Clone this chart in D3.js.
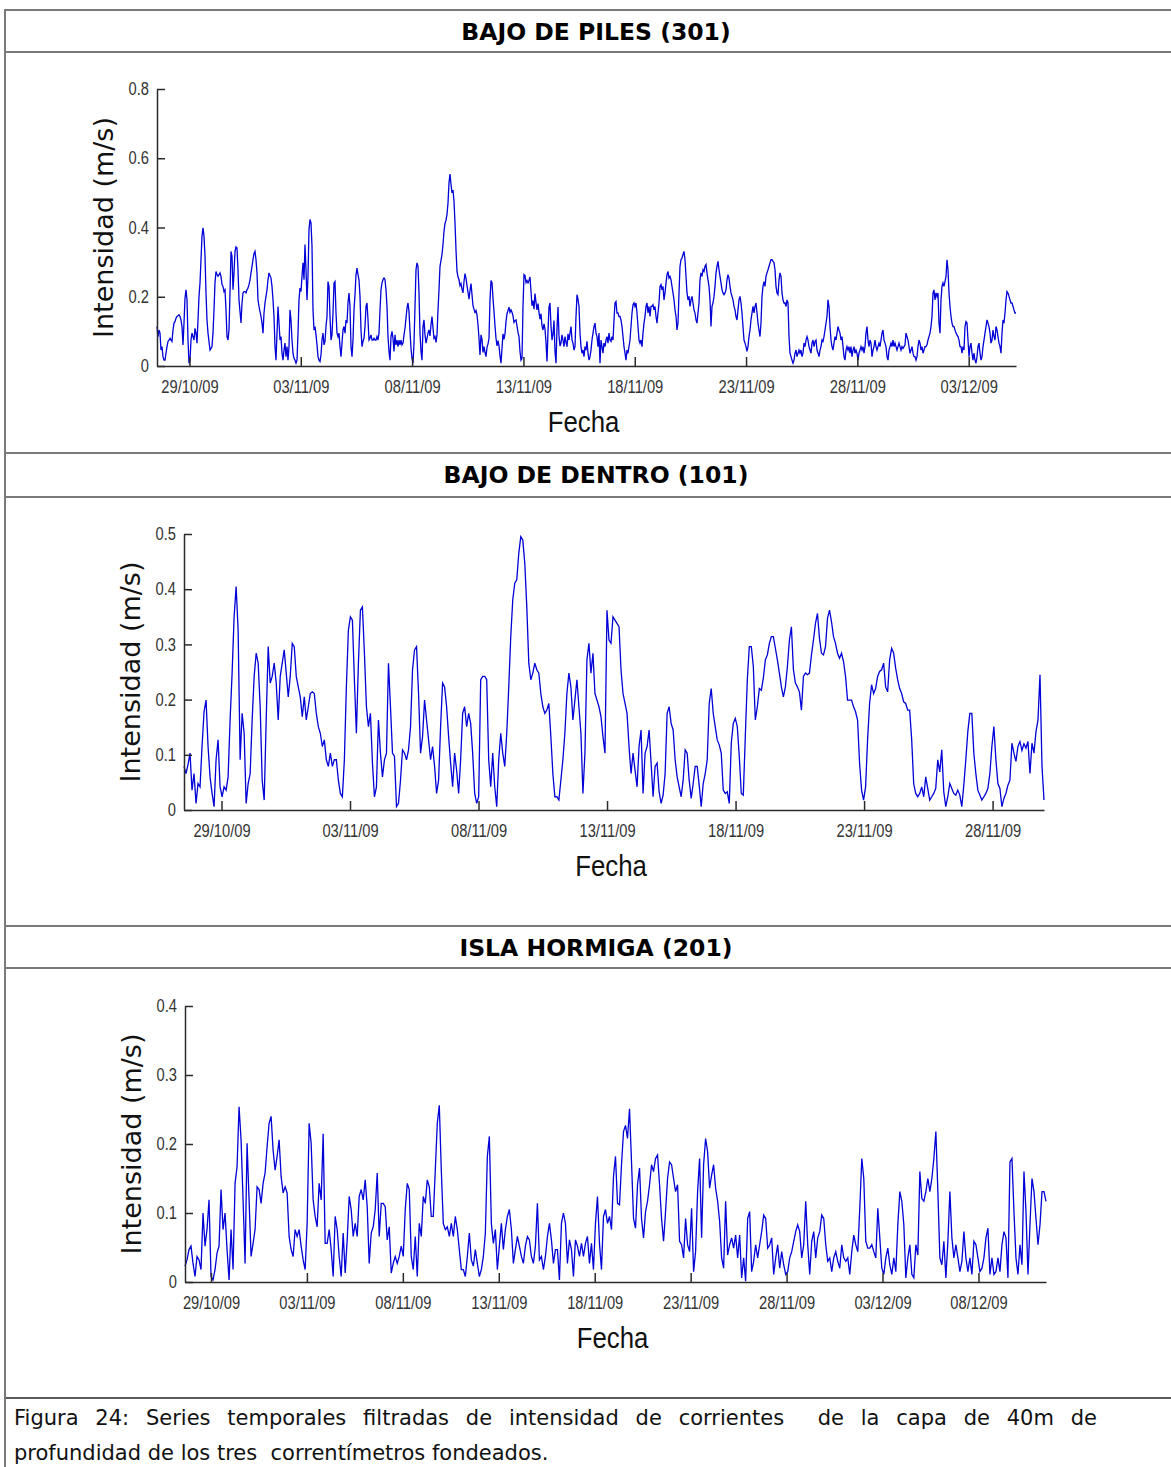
<!DOCTYPE html>
<html>
<head>
<meta charset="utf-8">
<script src="https://cdn.jsdelivr.net/npm/d3@7"></script>
<style>
  html, body { margin: 0; padding: 0; background: #fff; }
  svg { display: block; }
</style>
</head>
<body>
<svg id="fig" width="1171" height="1467"></svg>
<script>
// ---------------------------------------------------------------
// Filtered current speed at the 40 m layer, three moored meters.
// Speeds are stored in mm/s, evenly spaced between start and end.
// ---------------------------------------------------------------

const stationTitles = ["BAJO DE PILES (301)", "BAJO DE DENTRO (101)", "ISLA HORMIGA (201)"];

const yTicks301 = [0, 0.2, 0.4, 0.6, 0.8];
const yTicks101 = [0, 0.1, 0.2, 0.3, 0.4, 0.5];
const yTicks201 = [0, 0.1, 0.2, 0.3, 0.4];

const xTicks301 = ["2009-10-29", "2009-11-03", "2009-11-08", "2009-11-13", "2009-11-18", "2009-11-23", "2009-11-28", "2009-12-03"];
const xTicks101 = ["2009-10-29", "2009-11-03", "2009-11-08", "2009-11-13", "2009-11-18", "2009-11-23", "2009-11-28"];
const xTicks201 = ["2009-10-29", "2009-11-03", "2009-11-08", "2009-11-13", "2009-11-18", "2009-11-23", "2009-11-28", "2009-12-03", "2009-12-08"];

const start301 = "2009-10-27 13:00", end301 = "2009-12-05 03:00";
const start101 = "2009-10-27 13:00", end101 = "2009-11-30 00:00";
const start201 = "2009-10-27 15:30", end201 = "2009-12-11 12:30";

const speed301 = [
  114,85,104,95,46,56,27,17,17,37,56,71,75,80,75,71,104,124,128,138,143,145,148,143,133,114,61,124,196,220,191,75,8,17,75,95,85,75,109,95,66,133,201,240,307,375,399,375,317,211,133,95,71,46,51,56,95,162,240,273,264,259,264,269,259,235,230,215,220,162,85,75,104,211,331,317,220,269,331,344,341,278,191,157,124,182,211,215,215,211,220,225,235,249,269,288,307,325,331,307,269,191,172,157,143,124,95,153,182,201,220,249,269,261,254,230,191,143,56,17,95,172,124,75,85,37,17,46,66,27,56,17,56,162,133,75,37,22,17,8,17,95,191,225,215,259,298,249,351,278,191,259,394,423,413,346,162,104,114,90,61,27,17,13,32,75,95,61,71,114,143,244,230,143,75,90,153,240,244,153,95,85,95,56,27,66,104,114,95,133,124,182,211,172,56,27,75,162,206,264,283,264,249,201,104,56,71,80,114,172,182,133,75,80,90,75,75,80,75,75,85,75,95,162,220,240,249,254,249,220,172,85,42,17,85,100,80,42,90,61,75,56,75,61,75,61,66,90,109,138,167,182,157,100,51,22,8,66,172,278,298,288,211,95,42,17,114,133,90,66,80,95,104,87,119,143,109,80,85,68,90,162,220,288,305,322,351,389,412,421,438,471,529,554,525,500,508,476,413,336,273,257,249,232,238,222,211,244,267,254,232,213,193,218,238,206,174,164,155,160,148,119,80,32,90,77,39,56,39,27,54,64,80,191,247,241,196,157,116,80,58,73,58,29,8,51,93,77,93,128,151,160,170,155,162,155,145,126,131,133,116,97,85,42,17,22,172,264,261,241,247,240,247,257,215,174,189,164,209,184,162,180,155,135,151,116,104,122,106,68,13,100,170,182,116,75,93,131,42,8,109,170,87,58,66,90,75,56,85,68,56,93,75,95,114,75,66,46,56,143,206,193,172,95,56,37,46,27,56,46,71,37,17,27,
  46,75,95,114,124,95,85,56,95,8,75,56,37,66,56,75,85,66,95,75,71,85,75,133,182,186,153,153,143,143,133,114,85,56,37,17,46,37,56,75,114,153,177,182,172,182,153,114,75,66,75,56,95,124,143,172,182,153,172,143,172,172,177,162,172,143,124,153,182,230,235,220,230,191,211,240,264,273,254,259,249,230,211,191,162,143,104,124,211,288,307,312,322,331,307,259,211,191,201,172,191,201,182,162,153,133,124,153,182,249,269,259,278,273,288,293,269,249,230,191,114,172,182,201,230,269,288,302,278,259,240,220,211,206,211,220,249,264,254,230,211,201,191,172,162,143,133,162,191,201,182,153,114,75,66,56,42,56,85,104,133,153,172,153,172,182,153,124,104,85,124,201,230,244,230,259,269,278,288,298,307,307,302,298,278,230,211,206,249,269,259,211,191,182,182,172,191,182,85,37,27,17,8,17,37,46,27,37,46,37,46,27,37,66,56,75,85,75,56,46,37,66,75,56,71,75,46,37,27,46,56,75,71,85,104,124,143,191,172,114,75,56,46,66,85,75,95,114,104,95,75,85,56,27,17,46,56,46,56,37,56,27,46,56,37,46,37,17,37,46,56,46,56,37,56,95,114,75,56,75,66,27,46,56,75,56,46,56,66,56,75,95,104,75,66,56,27,17,46,56,66,56,75,56,66,56,46,56,66,56,46,56,51,56,61,95,85,75,56,37,46,56,37,27,27,17,27,56,75,66,46,56,37,46,56,56,61,75,85,95,114,143,211,220,191,211,201,211,124,95,191,230,240,230,244,259,307,278,211,172,143,124,114,114,104,95,90,85,75,56,56,37,56,46,114,128,124,75,27,56,66,37,17,37,17,8,27,56,66,37,17,27,56,75,95,114,133,124,114,95,66,75,104,85,75,114,104,85,66,56,37,95,133,124,153,191,215,211,201,191,182,182,172,162,153,153
];

const speed101 = [
  79,66,82,103,36,66,12,48,42,115,178,199,115,60,30,6,91,127,42,24,42,36,60,163,248,350,405,326,91,175,139,12,48,66,163,242,284,266,187,54,18,163,296,230,242,266,230,163,242,266,290,248,205,242,302,296,242,223,205,169,205,163,187,211,214,211,175,151,139,115,127,91,79,103,79,91,91,54,30,24,91,223,326,350,344,236,139,266,362,368,284,187,151,175,85,24,42,163,103,60,91,103,266,187,103,97,6,12,54,109,103,91,109,151,254,290,296,211,103,133,199,163,127,91,115,79,30,54,151,230,223,187,133,85,42,103,72,30,91,175,187,151,175,157,103,30,12,24,236,242,242,236,91,42,103,42,6,91,139,103,79,139,223,314,381,411,417,465,495,489,447,368,266,236,248,266,254,248,211,187,175,181,193,133,66,24,24,18,54,91,139,211,248,223,163,199,236,187,139,30,103,272,302,248,284,211,199,187,169,133,103,362,308,302,350,344,338,
  332,254,211,193,175,115,66,103,72,42,115,145,30,103,115,145,85,24,79,85,33,12,27,66,175,187,157,145,91,60,42,24,54,109,103,54,21,48,79,79,45,6,48,66,91,193,220,175,151,127,118,103,36,30,33,12,121,157,166,151,97,30,27,133,236,296,296,260,163,187,220,217,239,272,281,302,314,314,293,272,248,223,205,223,260,308,332,254,230,223,214,181,242,248,245,248,281,308,338,356,311,284,281,296,347,362,341,314,302,284,275,284,269,242,199,199,199,187,178,163,85,36,18,42,127,193,227,211,220,242,251,254,266,223,214,272,293,284,257,236,220,211,196,193,181,181,127,48,30,24,30,42,24,60,39,18,24,30,39,91,69,109,33,6,24,48,39,30,27,36,27,6,45,91,142,175,175,103,66,36,27,18,24,30,39,66,115,151,91,48,39,6,21,30,45,54,121,103,88,115,124,108,120,112,124,66,121,103,142,163,245,79,18
];

const speed201 = [
  23,32,47,52,27,8,37,32,18,100,52,76,119,8,3,18,42,52,134,76,100,47,3,76,18,143,167,254,206,119,27,201,119,37,56,76,138,134,114,143,158,196,230,240,191,162,182,206,153,129,138,129,66,47,37,76,66,76,52,32,18,85,230,201,119,95,80,143,119,215,56,56,76,47,8,95,76,37,8,71,13,61,124,105,66,85,66,124,134,119,148,109,27,71,80,105,158,66,114,114,109,61,80,13,27,37,27,37,52,37,105,143,134,37,18,66,8,85,66,124,114,148,138,95,95,162,230,256,162,85,76,80,66,85,66,95,76,47,18,18,8,37,71,32,23,47,27,8,18,37,71,182,211,85,56,76,18,52,85,47,76,95,105,76,27,47,66,52,37,27,52,66,61,37,27,52,114,32,37,18,37,66,85,61,27,47,47,3,85,100,85,27,61,47,8,61,52,37,56,37,56,66,27,56,18,85,124,56,18,95,105,85,95,76,153,182,114,
  112,170,218,227,208,251,174,92,78,141,165,92,64,102,117,141,170,160,179,184,141,92,59,102,150,174,170,150,131,141,59,54,35,92,54,44,107,15,44,131,179,64,170,208,189,136,155,170,136,117,88,35,20,117,39,54,64,49,68,35,68,6,35,1,92,102,15,30,54,35,54,73,97,92,49,54,64,11,35,54,20,44,25,11,15,35,44,59,73,83,73,35,54,117,54,11,59,73,35,64,73,97,92,54,30,35,15,35,44,30,20,54,35,30,35,11,44,68,54,44,107,179,150,59,49,49,54,44,35,107,64,20,11,35,49,25,11,35,15,83,131,117,83,6,35,54,11,6,54,39,160,121,117,131,150,131,150,179,218,131,35,25,59,6,59,131,64,35,54,35,15,30,73,35,15,35,11,59,54,35,15,20,35,64,78,11,35,11,15,35,15,54,73,64,6,174,179,102,35,11,54,25,160,102,11,83,150,131,92,54,83,131,131,117
];

const captionLines = [
  "Figura 24: Series temporales filtradas de intensidad de corrientes  de la capa de 40m de",
  "profundidad de los tres  correntímetros fondeados."
];

// ---------------------------------------------------------------
const parseTime = d3.timeParse("%Y-%m-%d %H:%M");
const parseDay = d3.timeParse("%Y-%m-%d");
const fmtTick = d3.timeFormat("%d/%m/%y");

function buildSeries(values, start, end) {
  const t0 = parseTime(start), t1 = parseTime(end);
  const step = (t1 - t0) / (values.length - 1);
  return values.map((v, i) => ({ t: new Date(+t0 + i * step), v: v / 1000 }));
}

const svg = d3.select("#fig");
svg.append("rect").attr("width", 1171).attr("height", 1467).attr("fill", "#fff");

// Table frame around the three panels and the caption
const frame = svg.append("g").attr("fill", "none");
[10, 52, 453, 497, 926, 968].forEach(yy => {
  frame.append("line").attr("x1", 5).attr("x2", 1171).attr("y1", yy).attr("y2", yy)
    .attr("stroke", "#7a7a7a").attr("stroke-width", 2);
});
frame.append("line").attr("x1", 5).attr("x2", 1171).attr("y1", 1398).attr("y2", 1398)
  .attr("stroke", "#222").attr("stroke-width", 1.6);
frame.append("line").attr("x1", 5).attr("x2", 5).attr("y1", 9).attr("y2", 1467)
  .attr("stroke", "#7a7a7a").attr("stroke-width", 2);

const panels = [
  { title: stationTitles[0], titleY: 40, data: buildSeries(speed301, start301, end301),
    yTicks: yTicks301, xTicks: xTicks301, left: 157, right: 1016, top: 89, bottom: 366 },
  { title: stationTitles[1], titleY: 483, data: buildSeries(speed101, start101, end101),
    yTicks: yTicks101, xTicks: xTicks101, left: 184, right: 1044, top: 534, bottom: 810 },
  { title: stationTitles[2], titleY: 956, data: buildSeries(speed201, start201, end201),
    yTicks: yTicks201, xTicks: xTicks201, left: 185, right: 1046, top: 1006, bottom: 1282 }
];

const NARROW = 0.84;

panels.forEach(p => {
  svg.append("text")
    .attr("x", 596).attr("y", p.titleY)
    .attr("text-anchor", "middle")
    .style("font-family", "'DejaVu Sans', sans-serif")
    .style("font-weight", "bold")
    .style("font-size", "23.5px")
    .attr("fill", "#000")
    .text(p.title);

  const x = d3.scaleTime()
    .domain(d3.extent(p.data, d => d.t))
    .range([p.left, p.right]);
  const y = d3.scaleLinear()
    .domain([0, d3.max(p.yTicks)])
    .range([p.bottom, p.top]);

  const g = svg.append("g");

  g.append("path")
    .datum(p.data)
    .attr("fill", "none")
    .attr("stroke", "#0000d8")
    .attr("stroke-width", 1.3)
    .attr("stroke-linejoin", "miter")
    .attr("d", d3.line().x(d => x(d.t)).y(d => y(d.v)));

  const xAxis = d3.axisBottom(x)
    .tickValues(p.xTicks.map(parseDay))
    .tickFormat(fmtTick)
    .tickSizeInner(-9)
    .tickSizeOuter(0)
    .tickPadding(14.5);

  const yAxis = d3.axisLeft(y)
    .tickValues(p.yTicks)
    .tickFormat(d => String(d))
    .tickSizeInner(-8)
    .tickSizeOuter(0)
    .tickPadding(8);

  const gx = g.append("g").attr("transform", `translate(0,${p.bottom})`).call(xAxis);
  const gy = g.append("g").attr("transform", `translate(${p.left},0)`).call(yAxis);

  [gx, gy].forEach(ax => {
    ax.attr("color", "#2a2a2a");
    ax.selectAll("path, line").attr("stroke-width", 1.5);
    ax.selectAll("text")
      .attr("fill", "#333")
      .style("font-family", "'Liberation Sans', Arial, sans-serif")
      .style("font-size", "17.5px");
  });
  gx.selectAll("text").attr("transform", `scale(${NARROW},1)`);
  gy.selectAll("text")
    .attr("x", -8 / NARROW)
    .attr("transform", `scale(${NARROW},1)`);

  // axis titles
  const cx = (p.left + p.right) / 2 - 3;
  g.append("text")
    .attr("transform", `translate(${cx},${p.bottom + 66}) scale(0.86,1)`)
    .attr("text-anchor", "middle")
    .style("font-family", "'Liberation Sans', Arial, sans-serif")
    .style("font-size", "30px")
    .attr("fill", "#111")
    .text("Fecha");

  g.append("text")
    .attr("transform", `translate(${p.left - 44},${(p.top + p.bottom) / 2}) rotate(-90)`)
    .attr("text-anchor", "middle")
    .style("font-family", "'DejaVu Sans', sans-serif")
    .style("font-size", "27px")
    .attr("fill", "#111")
    .text("Intensidad (m/s)");
});

// Caption, first line justified to the column width
const capStyle = sel => sel
  .style("font-family", "'DejaVu Sans', sans-serif")
  .style("font-size", "21px")
  .style("white-space", "pre")
  .attr("fill", "#111");

const cap1 = svg.append("text").attr("x", 14).attr("y", 1425).call(capStyle).text(captionLines[0]);
const natural = cap1.node().getComputedTextLength();
const gaps = (captionLines[0].match(/ /g) || []).length;
cap1.attr("word-spacing", Math.max(0, (1097 - 14 - natural) / gaps));

svg.append("text").attr("x", 14).attr("y", 1460).call(capStyle).text(captionLines[1]);
</script>
</body>
</html>
